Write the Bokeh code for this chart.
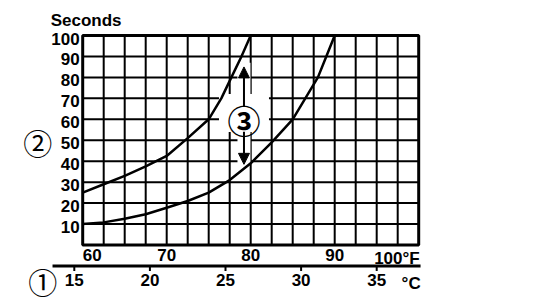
from bokeh.plotting import figure
from bokeh.models import Range1d, Label, Arrow, NormalHead
from bokeh.embed import file_html
from bokeh.resources import INLINE

# ---------------- data ----------------
upper_f = [60, 62.5, 65, 67.5, 70, 72.5, 75, 76.5, 77.7, 78.9, 80]
upper_s = [25, 29, 33, 37.5, 42.5, 51, 60, 70, 80, 90, 100]
lower_f = [60, 62.5, 65, 67.5, 70, 72.5, 75, 77.5, 80, 82.5, 85, 86.5, 88, 89, 90]
lower_s = [10, 10.8, 12.5, 14.7, 17.8, 21, 25, 31, 39, 49, 60, 70, 80, 90, 100]

sec_ticks = [10, 20, 30, 40, 50, 60, 70, 80, 90, 100]
sec_labels = ["10", "20", "30", "40", "50", "60", "70", "80", "90", "100"]
f_ticks = [60, 70, 80, 90, 100]
f_labels = ["60", "70", "80", "90", "100°F"]
c_ticks = [15, 20, 25, 30, 35]
c_labels = ["15", "20", "25", "30", "35"]
grid_f = [60, 62.5, 65, 67.5, 70, 72.5, 75, 77.5, 80, 82.5, 85, 87.5, 90, 92.5, 95, 97.5, 100]
grid_s = [0, 10, 20, 30, 40, 50, 60, 70, 80, 90, 100]

# annotation "3" with its two arrows (°F, seconds)
ann_f = 79.2
ann_s = 60
arrow_up_tip = 85
arrow_down_tip = 38.5

# ---------------- layout ----------------
W, H = 560, 304
PX_PER_F = 8.4          # horizontal scale
PX_PER_S = 2.095        # vertical scale
F60_PX = 82.2           # where 60 °F sits
S100_PX = 35.0          # where 100 s sits

x0 = 60 - F60_PX / PX_PER_F
x1 = x0 + W / PX_PER_F
y1 = 100 + S100_PX / PX_PER_S
y0 = y1 - H / PX_PER_S

def f_to_c(f):
    return (f - 32) * 5 / 9

C_AXIS_Y = -10.0              # seconds-units height of the Celsius axis line
C_AXIS_FROM, C_AXIS_TO = 13.56, 37.9   # °C extent of the Celsius axis line
TICK_LEN = 5 / PX_PER_S

FONT = "Liberation Sans"
FS = "17px"
CJK = "Noto Sans CJK JP"

p = figure(width=W, height=H, x_range=Range1d(x0, x1), y_range=Range1d(y0, y1),
           x_axis_type=None, y_axis_type=None, toolbar_location=None,
           output_backend="svg", min_border=0, min_border_left=0, min_border_right=0,
           min_border_top=0, min_border_bottom=0, outline_line_color=None,
           background_fill_color="white", border_fill_color="white")
p.grid.visible = False
p.extra_x_ranges = {"C": Range1d(f_to_c(x0), f_to_c(x1))}

# grid
inner_f = grid_f[1:-1]
inner_s = grid_s[1:-1]
p.segment(x0=inner_f, y0=[grid_s[0]] * len(inner_f), x1=inner_f, y1=[grid_s[-1]] * len(inner_f),
          line_color="black", line_width=2)
p.segment(x0=[grid_f[0]] * len(inner_s), y0=inner_s, x1=[grid_f[-1]] * len(inner_s), y1=inner_s,
          line_color="black", line_width=2)
p.quad(left=[grid_f[0]], right=[grid_f[-1]], bottom=[grid_s[0]], top=[grid_s[-1]],
       fill_color=None, line_color="black", line_width=3)

# white halo behind the annotation
p.segment(x0=[ann_f], y0=[arrow_down_tip], x1=[ann_f], y1=[arrow_up_tip + 2],
          line_color="white", line_width=13)
p.rect(x=[ann_f], y=[ann_s + 3], width=50, height=38, width_units="screen",
       height_units="screen", fill_color="white", line_color=None)

# curves
p.line(upper_f, upper_s, line_color="black", line_width=2.5, line_join="round")
p.line(lower_f, lower_s, line_color="black", line_width=2.5, line_join="round")

# arrows
p.add_layout(Arrow(x_start=ann_f, y_start=ann_s + 6, x_end=ann_f, y_end=arrow_up_tip,
                   line_width=2, line_color="black",
                   end=NormalHead(size=11, fill_color="black", line_color="black")))
p.add_layout(Arrow(x_start=ann_f, y_start=ann_s - 6, x_end=ann_f, y_end=arrow_down_tip,
                   line_width=2, line_color="black",
                   end=NormalHead(size=11, fill_color="black", line_color="black")))

# Celsius axis (line + ticks)
p.segment(x0=[C_AXIS_FROM], y0=[C_AXIS_Y], x1=[C_AXIS_TO], y1=[C_AXIS_Y],
          x_range_name="C", line_color="black", line_width=3)
p.segment(x0=c_ticks, y0=[C_AXIS_Y] * len(c_ticks), x1=c_ticks,
          y1=[C_AXIS_Y - TICK_LEN] * len(c_ticks),
          x_range_name="C", line_color="black", line_width=2)

def lab(**kw):
    base = dict(text_font=FONT, text_font_size=FS, text_font_style="bold", text_color="black")
    base.update(kw)
    p.add_layout(Label(**base))

# seconds labels
for s, t in zip(sec_ticks, sec_labels):
    lab(x=grid_f[0], y=s, text=t, x_offset=-3, y_offset=-3,
        text_align="right", text_baseline="middle")

# Fahrenheit labels
aligns = ["left", "center", "center", "center", "right"]
for f, t, a in zip(f_ticks, f_labels, aligns):
    lab(x=f, y=grid_s[0], text=t, x_offset=(1 if a == "right" else 0), y_offset=-4,
        text_align=a, text_baseline="top")

# Celsius labels
for c, t in zip(c_ticks, c_labels):
    lab(x=c, y=C_AXIS_Y, text=t, x_range_name="C", y_offset=-8,
        text_align="center", text_baseline="top")
lab(x=grid_f[-1], y=C_AXIS_Y, text="°C", x_offset=2, y_offset=-8,
    text_align="right", text_baseline="top")

# Seconds title
lab(x=grid_f[0], y=grid_s[-1], text="Seconds", x_offset=-32, y_offset=15,
    text_align="left", text_baseline="alphabetic")

# circled numbers
lab(x=ann_f, y=ann_s, text="③", text_font=CJK, text_font_size="33px",
    text_align="center", text_baseline="middle", y_offset=-1)
lab(x=grid_f[0], y=50, text="②", text_font=CJK, text_font_size="29px", text_font_style="normal",
    x_offset=-45, y_offset=-1.5, text_align="center", text_baseline="middle")
lab(x=grid_f[0], y=C_AXIS_Y, text="①", text_font=CJK, text_font_size="29px", text_font_style="normal",
    x_offset=-40, y_offset=-15, text_align="center", text_baseline="middle")

open("out.html", "w").write(file_html(p, INLINE))
